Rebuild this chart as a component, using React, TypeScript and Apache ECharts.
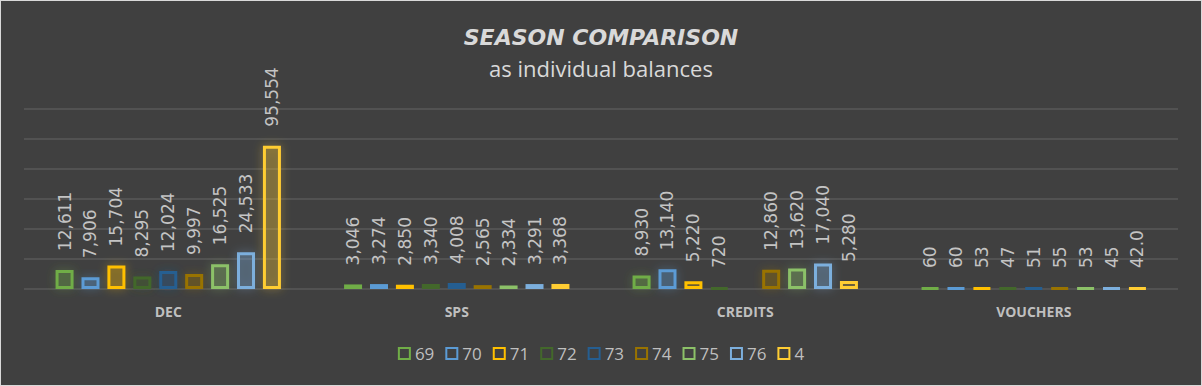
import React, { useEffect, useRef } from "react";
import * as echarts from "echarts";

const categories = ["DEC", "SPS", "CREDITS", "VOUCHERS"];
const seriesNames = ["69", "70", "71", "72", "73", "74", "75", "76", "4"];
const s69 = [12611, 3046, 8930, 60];
const s70 = [7906, 3274, 13140, 60];
const s71 = [15704, 2850, 5220, 53];
const s72 = [8295, 3340, 720, 47];
const s73 = [12024, 4008, null, 51];
const s74 = [9997, 2565, 12860, 55];
const s75 = [16525, 2334, 13620, 53];
const s76 = [24533, 3291, 17040, 45];
const s4 = [95554, 3368, 5280, 42.0];
const seriesValues = [s69, s70, s71, s72, s73, s74, s75, s76, s4];
const colors = ["#70AD47", "#5B9BD5", "#FFC000", "#43682B", "#255E91", "#997300", "#8CC168", "#7CAFDD", "#FFCD33"];

function hexA(hex: string, a: number) {
  const n = parseInt(hex.slice(1), 16);
  return `rgba(${(n >> 16) & 255},${(n >> 8) & 255},${n & 255},${a})`;
}

export default function App() {
  const ref = useRef<HTMLDivElement>(null);
  useEffect(() => {
    document.body.style.margin = "0";
    const chart = echarts.init(ref.current!, null, { renderer: "svg" });
    chart.setOption({
      animation: false,
      backgroundColor: "#404040",
      title: [
        {
          text: "SEASON COMPARISON",
          left: "center",
          top: 20,
          textStyle: {
            color: "#d9d9d9",
            fontFamily: "DejaVu Sans",
            fontWeight: "bold",
            fontStyle: "italic",
            fontSize: 22,
          },
        },
        {
          text: "as individual balances",
          left: "center",
          top: 51,
          textStyle: {
            color: "#d9d9d9",
            fontFamily: "Open Sans",
            fontWeight: "normal",
            fontSize: 22,
          },
        },
      ],
      legend: {
        left: "center",
        top: 339,
        itemWidth: 11,
        itemHeight: 11,
        itemGap: 11,
        icon: "rect",
        textStyle: { color: "#bfbfbf", fontFamily: "Open Sans", fontSize: 17 },
        data: seriesNames.map((n, i) => ({
          name: n,
          itemStyle: { color: "transparent", borderColor: colors[i], borderWidth: 2, shadowBlur: 0 },
        })),
      },
      grid: { left: 23, right: 23, top: 108, bottom: 96, containLabel: false },
      xAxis: {
        type: "category",
        data: categories,
        axisLine: { show: false },
        axisTick: { show: false },
        axisLabel: {
          color: "#bfbfbf",
          fontFamily: "Open Sans",
          fontWeight: "bold",
          fontSize: 14,
          margin: 15,
        },
      },
      yAxis: {
        type: "value",
        min: 0,
        max: 120000,
        interval: 20000,
        axisLabel: { show: false },
        axisLine: { show: false },
        axisTick: { show: false },
        splitLine: { lineStyle: { color: "#585858", width: 1.5 } },
      },
      series: seriesNames.map((n, i) => ({
        name: n,
        type: "bar",
        data: seriesValues[i].map((v) =>
          v !== null && v < 6000
            ? { value: v, itemStyle: { shadowBlur: 0, shadowColor: "transparent" } }
            : v
        ),
        barWidth: 18,
        barGap: "44%",
        barMinHeight: 1,
        itemStyle: {
          color: hexA(colors[i], 0.22),
          borderColor: colors[i],
          borderWidth: 3,
          shadowBlur: 10,
          shadowColor: hexA(colors[i], 0.45),
        },
        label: {
          show: true,
          position: "top",
          rotate: 90,
          align: "left",
          verticalAlign: "middle",
          distance: 19,
          color: "#c4c4c4",
          fontFamily: "DejaVu Sans",
          fontSize: 17,
          formatter: (p: any) =>
            p.seriesName === "4" && p.name === "VOUCHERS"
              ? Number(p.value).toFixed(1)
              : Number(p.value).toLocaleString("en-US"),
        },
      })),
    });
    return () => chart.dispose();
  }, []);
  return (
    <div
      style={{
        position: "absolute",
        left: 0,
        top: 0,
        width: 1202,
        height: 386,
        boxSizing: "border-box",
        border: "1px solid #d9d9d9",
        background: "#404040",
      }}
    >
      <div ref={ref} style={{ width: 1200, height: 384 }} />
    </div>
  );
}
